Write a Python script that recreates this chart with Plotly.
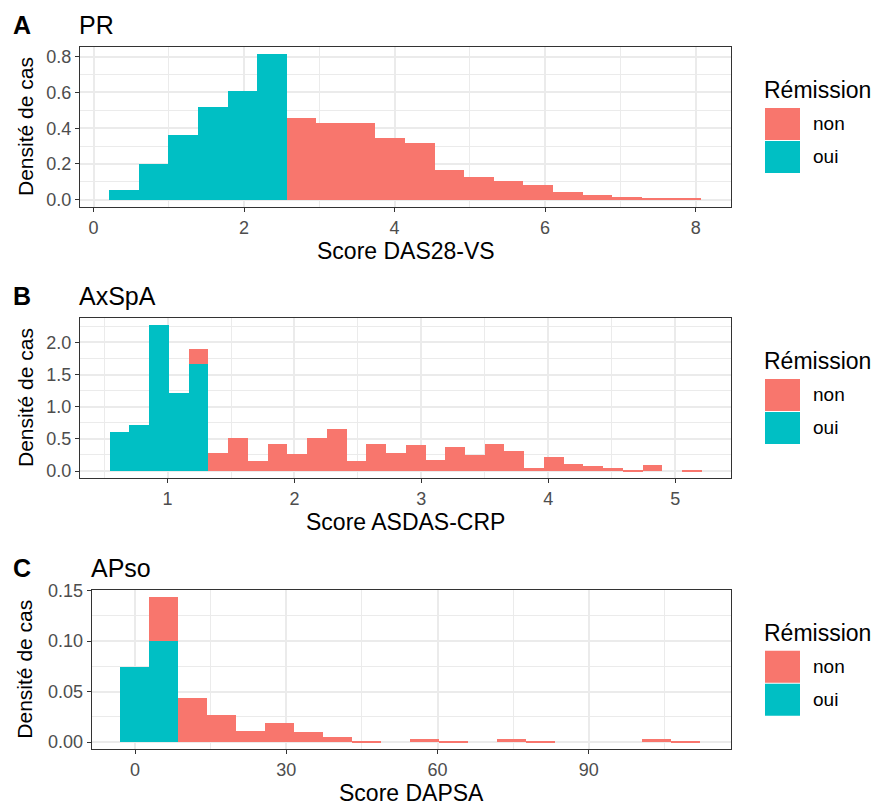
import plotly.graph_objects as go

W, H = 878, 805
FONT = "Liberation Sans, Arial, sans-serif"
COL_NON = "#F8766D"
COL_OUI = "#00BFC4"
GRID = "#EBEBEB"

# ---- Panel A: PR, score DAS28-VS (density per bin) ----
pr_bin_start = 0.209
pr_bin_width = 0.393
pr_oui = [0.057, 0.20, 0.36, 0.519, 0.606, 0.813, 0, 0, 0, 0,
          0, 0, 0, 0, 0, 0, 0, 0, 0, 0]
pr_non = [0, 0, 0, 0, 0, 0, 0.455, 0.43, 0.43, 0.344,
          0.32, 0.168, 0.129, 0.103, 0.083, 0.042, 0.028, 0.018, 0.011, 0.008]

# ---- Panel B: AxSpA, score ASDAS-CRP ----
ax_bin_start = 0.543
ax_bin_width = 0.1556
ax_oui = [0.607, 0.72, 2.27, 1.21, 1.67] + [0] * 25
ax_non = [0, 0, 0, 0, 0.225, 0.29, 0.52, 0.156, 0.427, 0.276,
          0.514, 0.65, 0.156, 0.427, 0.29, 0.41, 0.18, 0.385, 0.255, 0.427,
          0.31, 0.053, 0.23, 0.115, 0.089, 0.047, 0.021, 0.093, 0, 0.021]

# ---- Panel C: APso, score DAPSA ----
ap_bin_start = -2.97
ap_bin_width = 5.75
ap_oui = [0.0743, 0.1003] + [0] * 18
ap_non = [0, 0.0437, 0.044, 0.027, 0.0112, 0.0188, 0.0099, 0.0046, 0.0013, 0,
          0.003, 0.0015, 0, 0.003, 0.0015, 0, 0, 0, 0.003, 0.0015]

panels = [
    dict(letter="A", title="PR", xlabel="Score DAS28-VS",
         start=pr_bin_start, width=pr_bin_width, oui=pr_oui, non=pr_non,
         xrange=[-0.18, 8.47], xticks=[0, 2, 4, 6, 8], xminor=[1, 3, 5, 7],
         yrange=[-0.0407, 0.854], yticks=[0, 0.2, 0.4, 0.6, 0.8],
         yminor=[0.1, 0.3, 0.5, 0.7], yfmt="{:.1f}",
         box=(80, 731, 47, 207)),
    dict(letter="B", title="AxSpA", xlabel="Score ASDAS-CRP",
         start=ax_bin_start, width=ax_bin_width, oui=ax_oui, non=ax_non,
         xrange=[0.31, 5.44], xticks=[1, 2, 3, 4, 5], xminor=[0.5, 1.5, 2.5, 3.5, 4.5],
         yrange=[-0.1135, 2.3835], yticks=[0, 0.5, 1.0, 1.5, 2.0],
         yminor=[0.25, 0.75, 1.25, 1.75, 2.25], yfmt="{:.1f}",
         box=(80, 731, 317.7, 478.3)),
    dict(letter="C", title="APso", xlabel="Score DAPSA",
         start=ap_bin_start, width=ap_bin_width, oui=ap_oui, non=ap_non,
         xrange=[-8.6, 118.2], xticks=[0, 30, 60, 90], xminor=[15, 45, 75, 105],
         yrange=[-0.00717, 0.1507], yticks=[0, 0.05, 0.10, 0.15],
         yminor=[0.025, 0.075, 0.125], yfmt="{:.2f}",
         box=(91.7, 731, 590, 749.3)),
]


def px(x):
    return x / W


def py(y):
    return 1 - y / H


def label(text, x, y, size, xanchor="left", angle=0):
    return dict(text=text, x=px(x), y=py(y), xref="paper", yref="paper",
                xanchor=xanchor, yanchor="middle", textangle=angle,
                showarrow=False, font=dict(family=FONT, size=size, color="black"))


fig = go.Figure()
annotations = []
shapes = []

for i, p in enumerate(panels):
    n = "" if i == 0 else str(i + 1)
    centers = [p["start"] + (k + 0.5) * p["width"] for k in range(len(p["oui"]))]
    for name, vals, col in (("oui", p["oui"], COL_OUI), ("non", p["non"], COL_NON)):
        fig.add_trace(go.Bar(
            x=centers, y=vals, width=p["width"], name=name,
            marker=dict(color=col, line=dict(width=0)),
            xaxis="x" + n, yaxis="y" + n, showlegend=False,
        ))

    x0, x1, y0, y1 = p["box"]
    axis_common = dict(
        automargin=False,
        showline=True, mirror=True, linecolor="#333333", linewidth=1.3,
        ticks="outside", ticklen=4, tickwidth=1.2, tickcolor="#333333",
        showgrid=True, gridcolor=GRID, gridwidth=1.6, zeroline=False,
        tickfont=dict(family=FONT, size=18, color="#4D4D4D"),
    )
    fig.update_layout(**{
        "xaxis" + n: dict(
            axis_common, domain=[px(x0), px(x1)], range=p["xrange"],
            anchor="y" + n, tickvals=p["xticks"],
            ticktext=[str(v) for v in p["xticks"]],
            minor=dict(tickvals=p["xminor"], showgrid=True, gridcolor=GRID,
                       gridwidth=0.8),
        ),
        "yaxis" + n: dict(
            axis_common, domain=[py(y1), py(y0)], range=p["yrange"],
            anchor="x" + n, tickvals=p["yticks"],
            ticktext=[p["yfmt"].format(v) for v in p["yticks"]],
            minor=dict(tickvals=p["yminor"], showgrid=True, gridcolor=GRID,
                       gridwidth=0.8),
        ),
    })

    # panel letter and title
    annotations.append(label("<b>%s</b>" % p["letter"], 11, y0 - 22, 25))
    annotations.append(label(p["title"], x0 - 3, y0 - 22, 25))
    # axis titles
    annotations.append(label(p["xlabel"], (x0 + x1) / 2, y1 + 44, 23, "center"))
    annotations.append(label("Densité de cas", 25, (y0 + y1) / 2, 21, "center", -90))

    # legend: title, keys, labels
    ly = (y0 + y1) / 2
    annotations.append(label("Rémission", 762, ly - 37, 23))
    for j, (lab, col) in enumerate((("non", COL_NON), ("oui", COL_OUI))):
        ky0 = ly - 19 + j * 33
        shapes.append(dict(type="rect", xref="paper", yref="paper",
                           x0=px(765), x1=px(800), y0=py(ky0 + 32), y1=py(ky0),
                           fillcolor=col, line=dict(width=0)))
        annotations.append(label(lab, 811, ky0 + 16, 19))

fig.update_layout(
    width=W, height=H, barmode="stack", bargap=0,
    margin=dict(l=0, r=0, t=0, b=0),
    paper_bgcolor="white", plot_bgcolor="white",
    annotations=annotations, shapes=shapes, showlegend=False,
)

fig.write_html("out.html")
